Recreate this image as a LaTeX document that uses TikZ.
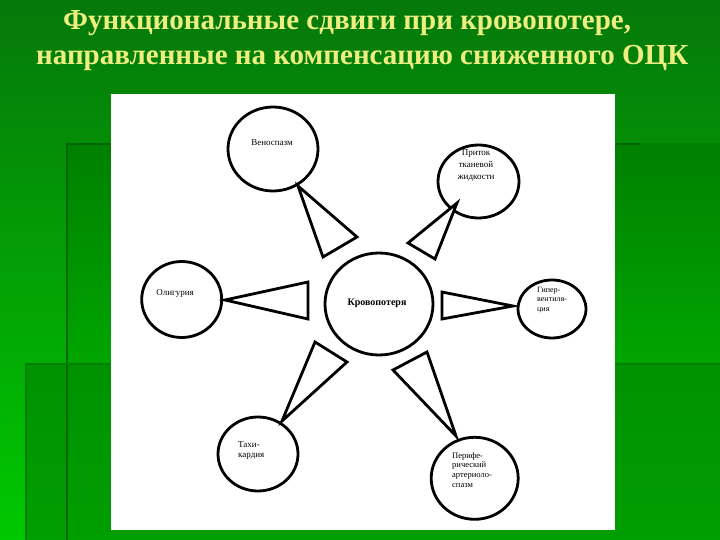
\documentclass[tikz,border=0pt]{standalone}
\usepackage{fontspec}
\setmainfont{Liberation Serif}
\usetikzlibrary{shapes.geometric}
\definecolor{bgtop}{RGB}{5,120,10}
\definecolor{bgbot}{RGB}{0,200,0}
\definecolor{atop}{RGB}{0,128,0}
\definecolor{abot}{RGB}{0,195,0}
\definecolor{btop}{RGB}{0,146,0}
\definecolor{bbot}{RGB}{0,158,0}
\definecolor{edgeA}{RGB}{0,100,0}
\definecolor{edgeB}{RGB}{0,128,0}
\definecolor{titlecol}{RGB}{238,238,128}
\begin{document}
\begin{tikzpicture}[x=1pt,y=-1pt,
  circ/.style={draw=black,line width=2.8pt,ellipse,inner sep=0pt},
  tri/.style={draw=black,line width=2.8pt,line join=miter,fill=white},
  lbl/.style={font=\fontsize{8.5}{10}\selectfont,inner sep=0pt,text=black},
  lblL/.style={lbl,align=left,anchor=north west},
  ttl/.style={font=\fontsize{29}{34}\selectfont\bfseries,text=titlecol,inner sep=0pt,anchor=west}]
\useasboundingbox (0,0) rectangle (720,540);
% background
\shade[top color=bgtop,bottom color=bgbot] (0,0) rectangle (720,540);
\shade[top color=atop,bottom color=abot] (67,144) rectangle (720,540);
\shade[top color=btop,bottom color=bbot] (26,364) rectangle (720,540);
\draw[edgeA,line width=2pt] (67,540) -- (67,144) -- (640,144);
\draw[edgeB,line width=1.2pt] (640,144) -- (720,144);
\draw[edgeB,line width=1.2pt] (26,540) -- (26,364) -- (720,364);
% title
\node[ttl] (t1) at (63,23) {Функциональные сдвиги при кровопотере,};
\node[ttl] (t2) at (36,58) {направленные на компенсацию сниженного ОЦК};
% white panel
\fill[white] (111,94) rectangle (615,530);
% circles
\node[circ,minimum width=108pt,minimum height=102pt] (krov) at (379,304) {};
\node[circ,minimum width=90pt,minimum height=84pt] (ven) at (273,149) {};
\node[circ,minimum width=81pt,minimum height=73pt] (prit) at (478.5,181.5) {};
\node[circ,minimum width=80pt,minimum height=76pt] (olig) at (181.7,299.5) {};
\node[circ,minimum width=68pt,minimum height=58pt] (giper) at (552,309) {};
\node[circ,minimum width=80pt,minimum height=74pt] (tahi) at (258,454) {};
\node[circ,minimum width=87pt,minimum height=82pt] (peri) at (474.7,478.3) {};
% triangles
\coordinate (a1) at (298,186); \coordinate (b1) at (357,237); \coordinate (c1) at (323,257);
\coordinate (a2) at (457,203); \coordinate (b2) at (408,243); \coordinate (c2) at (435,259);
\coordinate (a3) at (225,300); \coordinate (b3) at (308,282); \coordinate (c3) at (308,319);
\coordinate (a4) at (513,306); \coordinate (b4) at (442,292); \coordinate (c4) at (442,319);
\coordinate (a5) at (282,421); \coordinate (b5) at (315,342); \coordinate (c5) at (347,362);
\coordinate (a6) at (456,436); \coordinate (b6) at (393,370); \coordinate (c6) at (427,352);
\draw[tri] (a1) -- (b1) -- (c1) -- cycle;
\draw[tri] (a2) -- (b2) -- (c2) -- cycle;
\draw[tri] (a3) -- (b3) -- (c3) -- cycle;
\draw[tri] (a4) -- (b4) -- (c4) -- cycle;
\draw[tri] (a5) -- (b5) -- (c5) -- cycle;
\draw[tri] (a6) -- (b6) -- (c6) -- cycle;
% labels
\node[font=\fontsize{10}{12}\selectfont\bfseries,inner sep=0pt] (lkrov) at (377,303) {Кровопотеря};
\node[lbl,font=\fontsize{9}{11}\selectfont] (lven) at (272,143) {Веноспазм};
\node[lbl,align=center,font=\fontsize{9}{12}\selectfont] (lprit) at (476,165) {Приток\\тканевой\\жидкости};
\node[lbl,font=\fontsize{9}{11}\selectfont] (lolig) at (175,293) {Олигурия};
\node[lblL,font=\fontsize{8}{9.3}\selectfont] (lgiper) at (537,287) {Гипер-\\вентиля-\\ция};
\node[lblL,font=\fontsize{9}{10}\selectfont] (ltahi) at (238,441) {Тахи-\\кардия};
\node[lblL,font=\fontsize{8.5}{9.7}\selectfont] (lperi) at (452,452) {Перифе-\\рический\\артериоло-\\спазм};
\end{tikzpicture}
\end{document}
